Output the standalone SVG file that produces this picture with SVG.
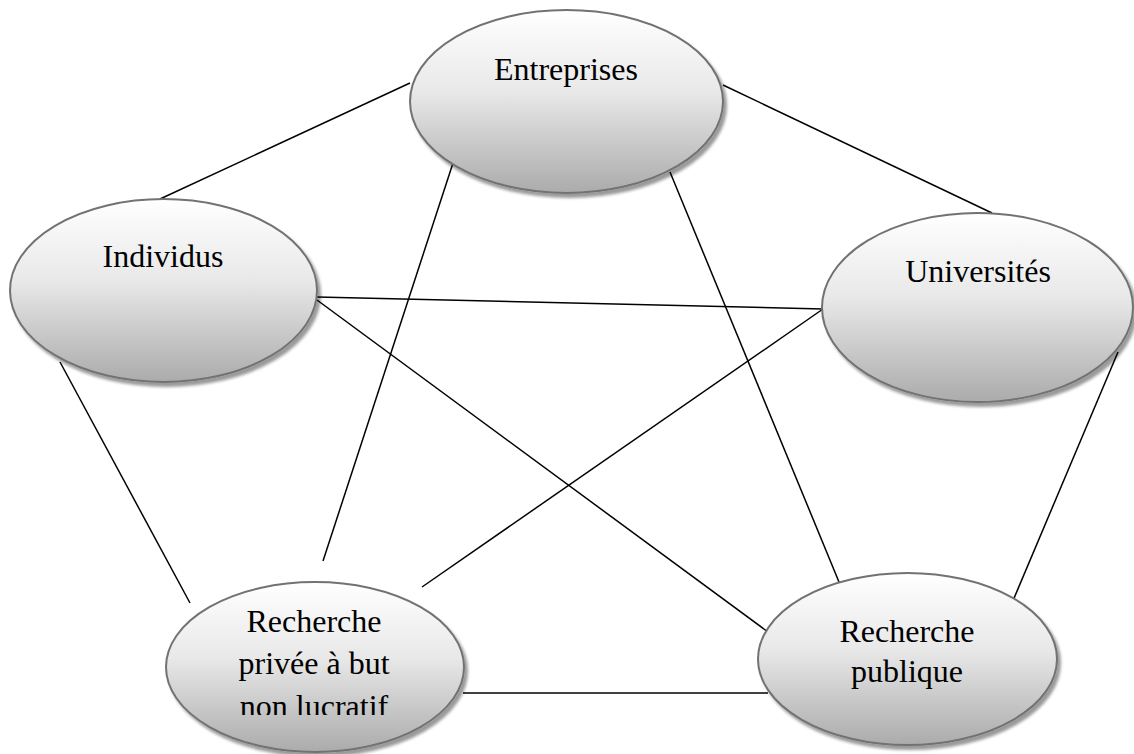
<svg xmlns="http://www.w3.org/2000/svg" width="1134" height="754" viewBox="0 0 1134 754">
  <defs>
    <linearGradient id="g" x1="0" y1="0" x2="0" y2="1">
      <stop offset="0" stop-color="#ffffff"/>
      <stop offset="0.45" stop-color="#e8e8e8"/>
      <stop offset="1" stop-color="#ababab"/>
    </linearGradient>
    <filter id="sh" x="-10%" y="-10%" width="125%" height="130%">
      <feGaussianBlur in="SourceAlpha" stdDeviation="1.5"/>
      <feOffset dx="3" dy="4" result="b"/>
      <feComponentTransfer in="b" result="c"><feFuncA type="linear" slope="0.4"/></feComponentTransfer>
      <feMerge><feMergeNode in="c"/><feMergeNode in="SourceGraphic"/></feMerge>
    </filter>
    <clipPath id="clipRP"><rect x="0" y="0" width="1134" height="715"/></clipPath>
  </defs>
  <style>
    .conn line { stroke: #000; stroke-width: 1.5; fill: none; }
    .node ellipse { fill: url(#g); stroke: #727272; stroke-width: 2; filter: url(#sh); }
    .node text { font-family: "Liberation Serif", "Times New Roman", serif; font-size: 32px; fill: #000; text-anchor: middle; }
  </style>
  <g id="connectors" class="conn">
    <line x1="410" y1="83" x2="160" y2="199"/>
    <line x1="723" y1="85" x2="992" y2="213"/>
    <line x1="453" y1="163" x2="323" y2="561"/>
    <line x1="670" y1="172" x2="839" y2="582"/>
    <line x1="317" y1="297" x2="823" y2="309"/>
    <line x1="317" y1="300" x2="768" y2="632"/>
    <line x1="60" y1="362" x2="190" y2="603"/>
    <line x1="823" y1="309" x2="422" y2="587"/>
    <line x1="1118" y1="352" x2="1012" y2="603"/>
    <line x1="463" y1="693" x2="768" y2="693"/>
  </g>
  <g id="node-entreprises" class="node">
    <ellipse cx="566.5" cy="101.5" rx="156.5" ry="91.5"/>
    <text x="566" y="80">Entreprises</text>
  </g>
  <g id="node-individus" class="node">
    <ellipse cx="163.5" cy="290.5" rx="153.5" ry="91.5"/>
    <text x="163" y="267">Individus</text>
  </g>
  <g id="node-universites" class="node">
    <ellipse cx="977.5" cy="307.5" rx="155.5" ry="94.5"/>
    <text x="978" y="282">Universités</text>
  </g>
  <g id="node-recherche-privee" class="node">
    <ellipse cx="315" cy="667" rx="149" ry="85"/>
    <g clip-path="url(#clipRP)">
      <text x="314" y="632">Recherche</text>
      <text x="314" y="674">privée à but</text>
      <text x="314" y="716.5">non lucratif</text>
    </g>
  </g>
  <g id="node-recherche-publique" class="node">
    <ellipse cx="907.5" cy="659" rx="149.5" ry="86"/>
    <text x="907" y="642">Recherche</text>
    <text x="907" y="682">publique</text>
  </g>
</svg>
